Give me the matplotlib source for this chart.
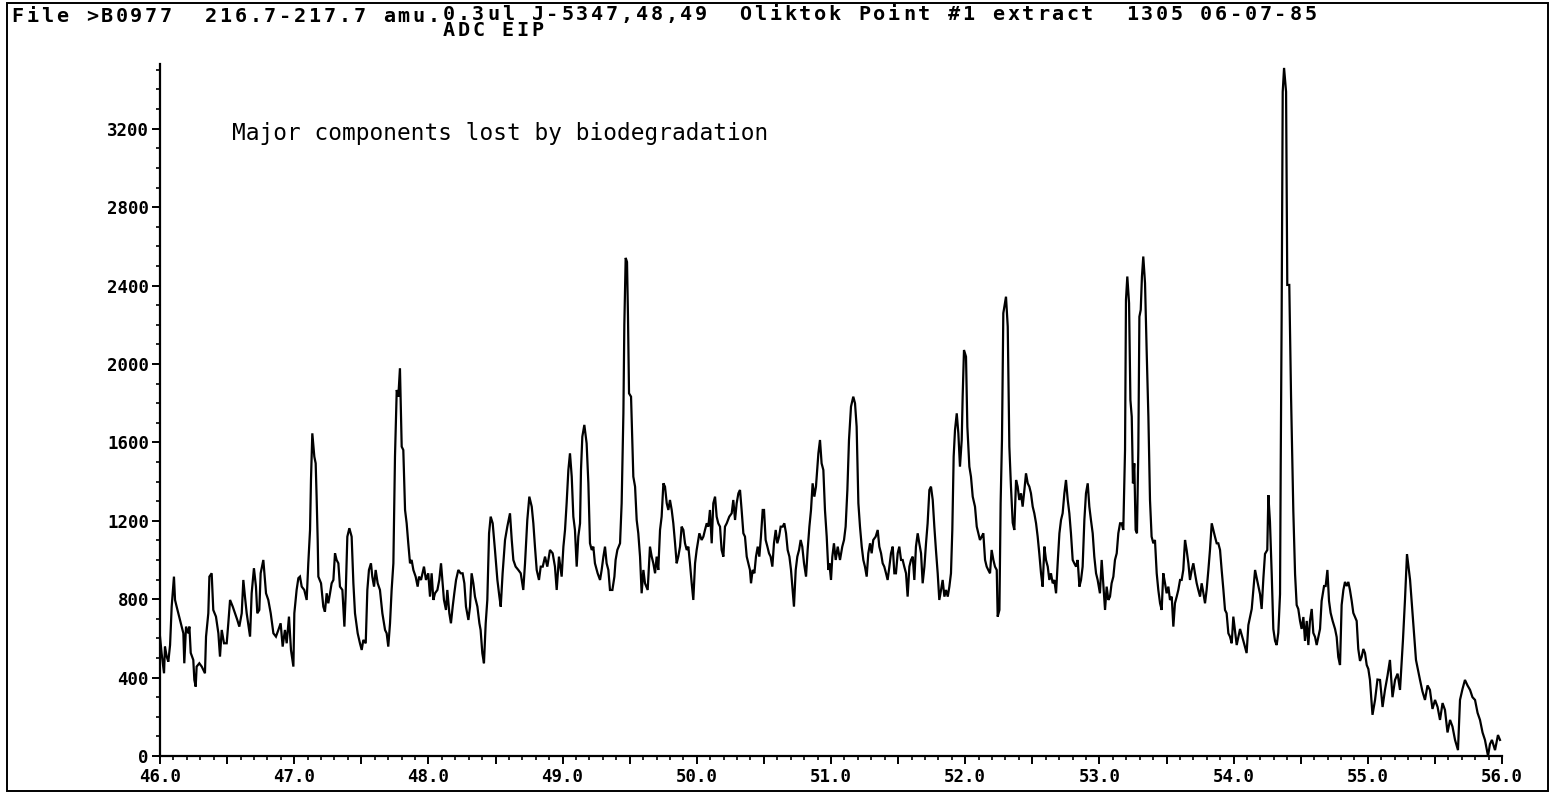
import matplotlib
matplotlib.use("Agg")
import matplotlib.pyplot as plt
from matplotlib.patches import Rectangle
from matplotlib.ticker import MultipleLocator, FuncFormatter

# retention time (min) and abundance
scan_time = [
    46.000, 46.012, 46.030, 46.037, 46.050, 46.062, 46.075, 46.087, 46.104, 46.112,
    46.124, 46.149, 46.174, 46.181, 46.194, 46.211, 46.219, 46.229, 46.248, 46.256,
    46.266, 46.273, 46.293, 46.311, 46.335, 46.343, 46.360, 46.368, 46.385, 46.397,
    46.417, 46.435, 46.447, 46.460, 46.477, 46.497, 46.509, 46.522, 46.542, 46.559,
    46.576, 46.591, 46.609, 46.621, 46.633, 46.646, 46.671, 46.683, 46.700, 46.715,
    46.725, 46.740, 46.750, 46.770, 46.790, 46.807, 46.825, 46.845, 46.864, 46.882,
    46.899, 46.914,
    46.931, 46.944, 46.961, 46.976, 46.994, 47.001, 47.018, 47.031, 47.043, 47.056,
    47.075, 47.093, 47.105, 47.118, 47.125, 47.135, 47.150, 47.160, 47.167, 47.175,
    47.180, 47.200, 47.217, 47.229, 47.242, 47.254, 47.267, 47.279, 47.292, 47.304,
    47.316, 47.329, 47.341, 47.359, 47.374, 47.383, 47.396, 47.411, 47.428, 47.441,
    47.453, 47.473, 47.490, 47.503, 47.515, 47.533, 47.545, 47.557, 47.572, 47.582,
    47.595, 47.607, 47.622, 47.639, 47.657, 47.677, 47.689, 47.701, 47.714, 47.726,
    47.739, 47.751, 47.764, 47.776, 47.788, 47.801, 47.813, 47.826, 47.838, 47.850,
    47.863, 47.875, 47.888, 47.905, 47.920, 47.930, 47.945, 47.962,
    47.967, 47.982, 47.999, 48.012, 48.024, 48.037, 48.049, 48.067, 48.081, 48.094,
    48.106, 48.116, 48.131, 48.141, 48.156, 48.168, 48.181, 48.193, 48.206, 48.223,
    48.240, 48.255, 48.268, 48.280, 48.298, 48.310, 48.322, 48.335, 48.347, 48.365,
    48.380, 48.389, 48.402, 48.414, 48.427, 48.439, 48.452, 48.464, 48.479, 48.496,
    48.514, 48.529, 48.539, 48.553, 48.571, 48.588, 48.608, 48.621, 48.633, 48.650,
    48.670, 48.688, 48.707, 48.720, 48.737, 48.752, 48.770, 48.782, 48.794, 48.807,
    48.824, 48.837, 48.852, 48.869, 48.886, 48.906, 48.926, 48.943, 48.956, 48.968,
    48.973, 48.993, 49.006, 49.018, 49.030, 49.043, 49.055, 49.068, 49.080, 49.092,
    49.105, 49.117, 49.130, 49.137, 49.147, 49.162, 49.179, 49.192, 49.204, 49.217,
    49.229, 49.241, 49.261, 49.279, 49.291, 49.304, 49.316, 49.328, 49.341, 49.353,
    49.371, 49.386, 49.395, 49.408, 49.428, 49.440, 49.453, 49.460, 49.470, 49.480,
    49.487, 49.495, 49.510, 49.527, 49.540, 49.552, 49.564, 49.577, 49.589, 49.602,
    49.614, 49.634, 49.651, 49.664, 49.676, 49.689, 49.701, 49.713, 49.726, 49.738,
    49.751, 49.763, 49.776, 49.788, 49.800, 49.813, 49.825, 49.838, 49.850, 49.862,
    49.875, 49.887, 49.900, 49.912, 49.925, 49.937, 49.949, 49.962, 49.974,
    49.987, 49.999, 50.019, 50.036, 50.049, 50.061, 50.074, 50.086, 50.098, 50.111,
    50.123, 50.136, 50.148, 50.160, 50.173, 50.185, 50.198, 50.210, 50.223, 50.242,
    50.260, 50.272, 50.285, 50.297, 50.310, 50.322, 50.334, 50.347, 50.359, 50.372,
    50.384, 50.396, 50.404, 50.416, 50.429, 50.441, 50.454, 50.466, 50.478, 50.491,
    50.501, 50.513, 50.526, 50.538, 50.550, 50.563, 50.575, 50.588, 50.600, 50.613,
    50.625, 50.640, 50.652, 50.665, 50.677, 50.690, 50.702, 50.714, 50.724, 50.737,
    50.749, 50.762, 50.774, 50.786, 50.799, 50.814, 50.826, 50.839, 50.851, 50.863,
    50.876, 50.888, 50.906, 50.918, 50.930, 50.943, 50.955, 50.968, 50.980,
    50.988, 51.000, 51.010, 51.022, 51.035, 51.050, 51.067, 51.084, 51.097, 51.109,
    51.122, 51.134, 51.149, 51.166, 51.179, 51.191, 51.204, 51.216, 51.229, 51.241,
    51.253, 51.266, 51.278, 51.291, 51.303, 51.315, 51.333, 51.348, 51.360, 51.373,
    51.385, 51.397, 51.410, 51.422, 51.435, 51.447, 51.460, 51.472, 51.484, 51.497,
    51.509, 51.522, 51.534, 51.546, 51.559, 51.571, 51.584, 51.596, 51.609, 51.621,
    51.633, 51.646, 51.658, 51.671, 51.683, 51.696, 51.708, 51.720, 51.733, 51.745,
    51.758, 51.770, 51.782, 51.795, 51.807, 51.820, 51.832, 51.845, 51.857, 51.870,
    51.882, 51.894, 51.904, 51.914, 51.924, 51.937, 51.949, 51.961,
    51.974, 51.981, 51.991, 52.006, 52.016, 52.031, 52.043, 52.056, 52.073, 52.086,
    52.098, 52.110, 52.123, 52.135, 52.148, 52.160, 52.172, 52.185, 52.197, 52.210,
    52.222, 52.235, 52.242, 52.255, 52.264, 52.274, 52.284, 52.304, 52.317, 52.329,
    52.341, 52.354, 52.366, 52.379, 52.391, 52.403, 52.416, 52.428, 52.441, 52.453,
    52.466, 52.478, 52.490, 52.503, 52.515, 52.528, 52.540, 52.552, 52.565, 52.577,
    52.590, 52.602, 52.615, 52.627, 52.639, 52.652, 52.664, 52.677, 52.689, 52.702,
    52.714, 52.726, 52.739, 52.751, 52.764, 52.776, 52.788, 52.801, 52.813, 52.826,
    52.838, 52.851, 52.863, 52.875, 52.888, 52.900, 52.913, 52.925, 52.937, 52.950,
    52.962, 52.975, 52.987,
    53.004, 53.017, 53.029, 53.042, 53.054, 53.067, 53.079, 53.091, 53.104, 53.116,
    53.129, 53.141, 53.154, 53.166, 53.178, 53.191, 53.198, 53.208, 53.221, 53.231,
    53.241, 53.250, 53.260, 53.270, 53.280, 53.290, 53.298, 53.308, 53.317, 53.327,
    53.340, 53.352, 53.365, 53.377, 53.389, 53.402, 53.414, 53.427, 53.439, 53.452,
    53.464, 53.476, 53.489, 53.501, 53.514, 53.526, 53.539, 53.551, 53.563, 53.576,
    53.588, 53.601, 53.613, 53.625, 53.638, 53.650, 53.663, 53.675, 53.688, 53.700,
    53.712, 53.725, 53.737, 53.750, 53.762, 53.775, 53.787, 53.799, 53.812, 53.824,
    53.837, 53.849, 53.861, 53.874, 53.886, 53.899, 53.911, 53.924, 53.936, 53.948,
    53.961, 53.973, 53.986, 53.998,
    54.023, 54.048, 54.073, 54.097, 54.110, 54.135, 54.160, 54.172, 54.197, 54.209,
    54.222, 54.234, 54.251, 54.259, 54.271, 54.284, 54.296, 54.309, 54.321, 54.333,
    54.346, 54.351, 54.358, 54.366, 54.376, 54.391, 54.400, 54.415, 54.428, 54.445,
    54.458, 54.470, 54.482, 54.495, 54.507, 54.520, 54.532, 54.545, 54.557, 54.569,
    54.582, 54.594, 54.607, 54.619, 54.644, 54.656, 54.674, 54.686, 54.699, 54.711,
    54.723, 54.738, 54.756, 54.768, 54.780, 54.793, 54.805, 54.818, 54.830, 54.843,
    54.855, 54.867, 54.880, 54.892, 54.905, 54.917, 54.929, 54.942, 54.954, 54.967,
    54.979, 54.992, 55.004,
    55.016, 55.035, 55.054, 55.072, 55.091, 55.110, 55.128, 55.147, 55.165, 55.184,
    55.203, 55.222, 55.240, 55.262, 55.277, 55.292, 55.315, 55.337, 55.359, 55.389,
    55.407, 55.426, 55.445, 55.463, 55.482, 55.501, 55.520, 55.538, 55.557, 55.575,
    55.594, 55.613, 55.631, 55.650, 55.672, 55.687, 55.705, 55.724, 55.743, 55.762,
    55.780, 55.799, 55.818, 55.836, 55.855, 55.873, 55.896, 55.910, 55.925, 55.948,
    55.970, 55.985,
]

abundance = [
    609, 524, 422, 558, 507, 481, 566, 762, 915, 796,
    762, 694, 626, 473, 660, 626, 660, 526, 490, 388,
    354, 456, 473, 456, 422, 609, 728, 915, 932, 745,
    711, 626, 507, 643, 575, 575, 677, 796, 762, 728,
    694, 660, 728, 898, 813, 728, 609, 830, 958, 864,
    728, 745, 932, 1000, 830, 796, 728, 626, 609, 643,
    677, 558,
    643, 575, 711, 541, 456, 728, 847, 907, 915, 864,
    847, 796, 983, 1153, 1408, 1646, 1527, 1493, 1323, 1102,
    915, 881, 762, 736, 830, 779, 830, 881, 898, 1034,
    1000, 983, 864, 847, 660, 813, 1119, 1162, 1119, 881,
    728, 626, 575, 541, 592, 575, 847, 949, 983, 915,
    864, 949, 881, 847, 728, 643, 626, 558, 677, 847,
    983, 1527, 1867, 1833, 1978, 1578, 1561, 1255, 1187, 1085,
    983, 1000, 949, 915, 864, 915, 898, 949,
    966, 898, 932, 813, 932, 796, 830, 847, 898, 983,
    881, 796, 745, 847, 728, 677, 762, 830, 898, 949,
    932, 932, 881, 762, 694, 762, 932, 881, 813, 762,
    677, 643, 524, 473, 677, 796, 1136, 1221, 1187, 1051,
    898, 813, 762, 932, 1102, 1170, 1238, 1102, 1000, 966,
    949, 932, 847, 983, 1204, 1323, 1272, 1187, 1068, 949,
    898, 966, 966, 1017, 966, 1051, 1034, 966, 847, 966,
    1017, 915, 1068, 1153, 1289, 1459, 1544, 1425, 1221, 1153,
    966, 1119, 1187, 1459, 1629, 1689, 1595, 1391, 1085, 1051,
    1068, 983, 932, 898, 949, 1017, 1068, 983, 949, 847,
    847, 915, 1000, 1051, 1085, 1289, 1748, 2200, 2541, 2520,
    2250, 1850, 1833, 1425, 1374, 1204, 1136, 1017, 830, 949,
    881, 847, 1068, 1017, 983, 932, 1017, 949, 1153, 1221,
    1391, 1374, 1289, 1255, 1306, 1255, 1187, 1085, 983, 1017,
    1068, 1170, 1153, 1085, 1051, 1068, 983, 881, 796,
    983, 1051, 1136, 1102, 1119, 1153, 1187, 1170, 1255, 1085,
    1289, 1323, 1221, 1187, 1170, 1051, 1017, 1170, 1187, 1221,
    1238, 1306, 1204, 1289, 1340, 1357, 1255, 1136, 1119, 1017,
    983, 949, 881, 949, 932, 1017, 1068, 1017, 1119, 1255,
    1255, 1102, 1068, 1034, 1017, 966, 1085, 1153, 1085, 1119,
    1170, 1170, 1187, 1136, 1051, 1017, 949, 847, 762, 949,
    1017, 1051, 1102, 1068, 983, 915, 1051, 1170, 1255, 1391,
    1323, 1374, 1544, 1612, 1493, 1459, 1255, 1119, 949,
    983, 898, 1017, 1085, 1000, 1068, 1000, 1068, 1102, 1170,
    1357, 1612, 1782, 1833, 1799, 1680, 1289, 1170, 1068, 1000,
    966, 915, 1034, 1085, 1034, 1102, 1119, 1153, 1068, 1034,
    983, 966, 932, 898, 966, 1034, 1068, 932, 932, 1034,
    1068, 1000, 1000, 966, 932, 813, 966, 1000, 1017, 898,
    1068, 1136, 1085, 1034, 881, 966, 1085, 1187, 1357, 1374,
    1306, 1170, 1051, 932, 796, 847, 898, 813, 847, 813,
    864, 932, 1153, 1527, 1663, 1748, 1646, 1476,
    1612, 1833, 2071, 2037, 1680, 1476, 1425, 1323, 1272, 1170,
    1136, 1102, 1119, 1136, 1000, 966, 949, 932, 1051, 1000,
    966, 949, 711, 745, 1289, 1612, 2259, 2343, 2190, 1578,
    1374, 1190, 1153, 1408, 1374, 1306, 1340, 1272, 1357, 1442,
    1391, 1374, 1340, 1272, 1238, 1187, 1119, 1034, 932, 864,
    1068, 1000, 966, 898, 932, 881, 898, 830, 983, 1136,
    1204, 1238, 1340, 1408, 1306, 1238, 1136, 1000, 983, 966,
    1000, 864, 898, 966, 1204, 1340, 1391, 1272, 1204, 1136,
    1017, 932, 898,
    830, 1000, 881, 745, 864, 796, 813, 881, 915, 1000,
    1034, 1136, 1187, 1187, 1153, 1561, 2327, 2446, 2310, 1816,
    1731, 1391, 1493, 1153, 1136, 1561, 2241, 2276, 2446, 2548,
    2412, 2071, 1731, 1306, 1119, 1085, 1102, 932, 847, 779,
    745, 932, 881, 830, 864, 796, 813, 660, 779, 813,
    847, 898, 898, 949, 1102, 1051, 983, 898, 949, 983,
    932, 881, 847, 813, 881, 830, 779, 847, 949, 1051,
    1187, 1153, 1119, 1085, 1085, 1051, 949, 847, 745, 728,
    626, 609, 575, 711,
    566, 648, 587, 525, 668, 750, 949, 908, 826, 750,
    908, 1031, 1051, 1331, 1194, 928, 648, 587, 566, 628,
    826, 1474, 2240, 3388, 3510, 3388, 2403, 2403, 1837, 1250,
    928, 770, 750, 689, 648, 709, 587, 689, 566, 689,
    750, 628, 607, 566, 648, 791, 867, 867, 949, 791,
    730, 689, 648, 607, 505, 464, 770, 847, 888, 867,
    888, 847, 791, 730, 709, 689, 546, 485, 505, 546,
    525, 464, 444,
    388, 210, 286, 390, 388, 250, 337, 410, 490, 300,
    388, 420, 337, 592, 796, 1030, 898, 694, 490, 388,
    330, 286, 360, 337, 240, 286, 250, 184, 270, 235,
    120, 184, 150, 82, 30, 286, 340, 388, 360, 337,
    300, 286, 220, 184, 120, 82, 0, 60, 82, 30,
    107, 82,
]

y_major = [0, 400, 800, 1200, 1600, 2000, 2400, 2800, 3200]

header_file = "File >B0977  216.7-217.7 amu."
header_rest = "0.3ul J-5347,48,49  Oliktok Point #1 extract  1305 06-07-85"
header_mode = "ADC EIP"
note = "Major components lost by biodegradation"

W, H = 1551, 797
fig = plt.figure(figsize=(W / 100, H / 100), dpi=100)
ax = fig.add_axes([160 / W, 1 - 756 / H, (1502 - 160) / W, (756 - 64) / H])

mono = "DejaVu Sans Mono"

ax.plot(scan_time, abundance, color="black", lw=1.6, solid_joinstyle="miter")
ax.set_xlim(46, 56)
ax.set_ylim(0, 3530)

for side in ("top", "right"):
    ax.spines[side].set_visible(False)
for side in ("left", "bottom"):
    ax.spines[side].set_linewidth(1.6)

ax.yaxis.set_minor_locator(MultipleLocator(100))
ax.set_yticks(y_major)
ax.set_yticklabels([str(v) for v in y_major])

ax.xaxis.set_major_locator(MultipleLocator(0.5))
ax.xaxis.set_minor_locator(MultipleLocator(0.1))
ax.xaxis.set_major_formatter(FuncFormatter(
    lambda v, p: f"{v:.1f}" if abs(v - round(v)) < 1e-6 else ""))

ax.tick_params(axis="both", which="major", direction="out", width=1.4,
               length=6, labelsize=12.5, pad=2)
ax.tick_params(axis="both", which="minor", direction="out", width=1.2, length=3)
ax.tick_params(axis="x", which="major", pad=3)
for lab in ax.get_xticklabels() + ax.get_yticklabels():
    lab.set_fontfamily(mono)
    lab.set_fontweight("bold")

ax.text(0.054, 0.9, note, transform=ax.transAxes, fontsize=16.4,
        family=mono, va="center")

# printout header on a fixed character pitch
PITCH = 14.86


def pitch_text(col, y0, s):
    for i, ch in enumerate(s):
        fig.text((10 + (col + i + 0.5) * PITCH) / W, 1 - y0 / H, ch,
                 ha="center", va="top", fontsize=14.5, family=mono,
                 fontweight="bold")


pitch_text(0, 7, header_file)
pitch_text(29, 5, header_rest)
pitch_text(29, 21, header_mode)

fig.patches.append(Rectangle((7 / W, 1 - 791 / H), (1548 - 7) / W, (791 - 3) / H,
                             transform=fig.transFigure, fill=False,
                             edgecolor="black", lw=1.4))

fig.savefig("out.png", dpi=100)
